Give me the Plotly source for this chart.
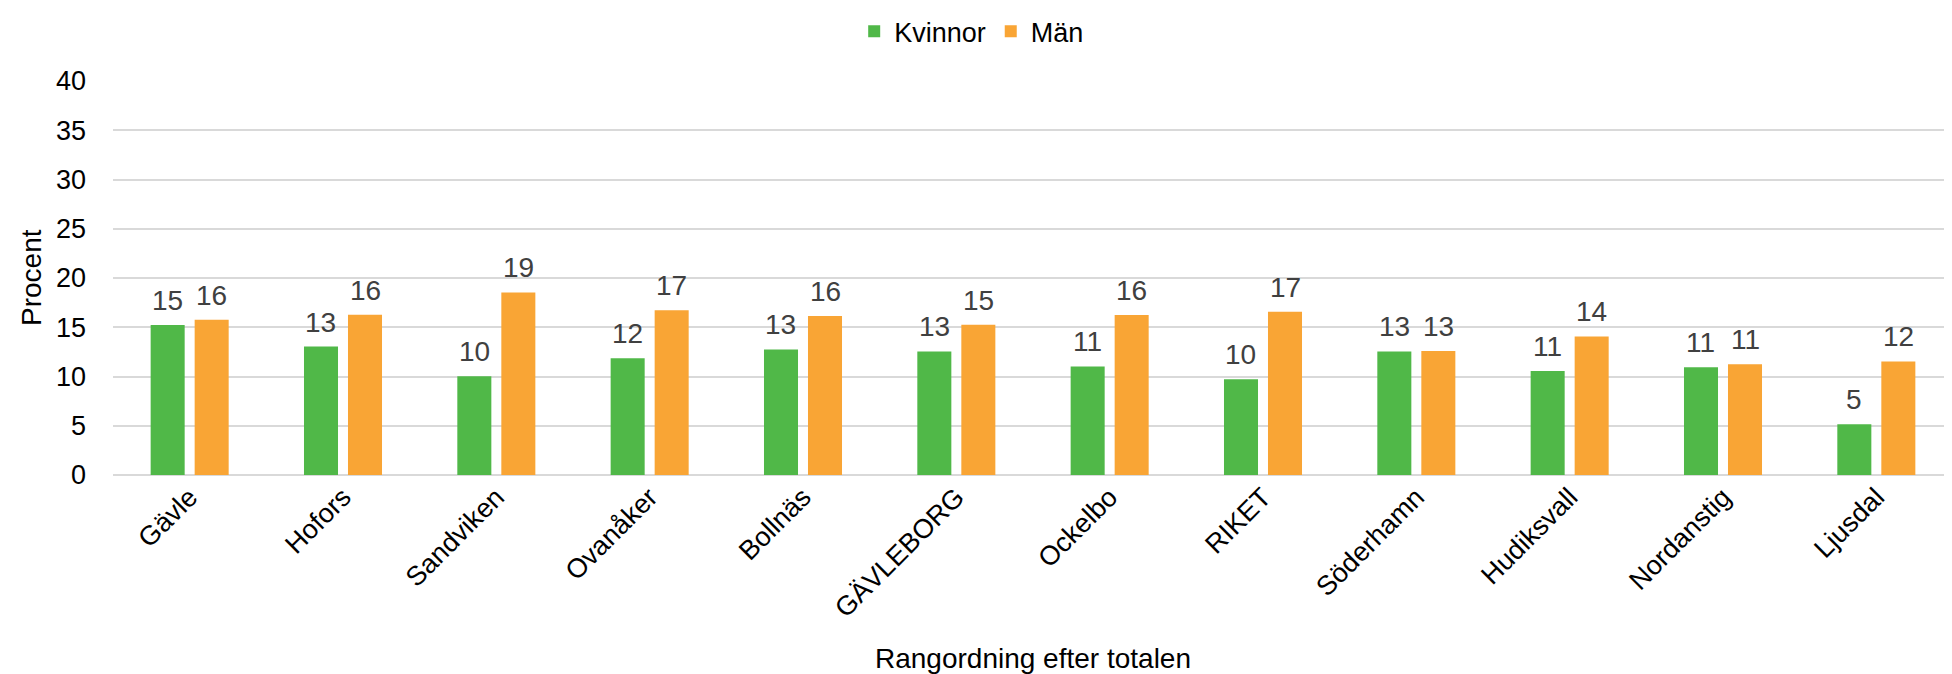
import plotly.graph_objects as go

categories = ["Gävle", "Hofors", "Sandviken", "Ovanåker", "Bollnäs", "GÄVLEBORG",
              "Ockelbo", "RIKET", "Söderhamn", "Hudiksvall", "Nordanstig", "Ljusdal"]
kvinnor = [15.24, 13.04, 10.03, 11.85, 12.75, 12.55, 11.02, 9.73, 12.55, 10.55, 10.95, 5.15]
man = [15.75, 16.26, 18.53, 16.73, 16.14, 15.25, 16.24, 16.58, 12.6, 14.07, 11.25, 11.53]
series_names = ["Kvinnor", "Män"]
y_ticks = [0, 5, 10, 15, 20, 25, 30, 35, 40]
x_title = "Rangordning efter totalen"
y_title = "Procent"

GREEN = "#50B848"
ORANGE = "#F9A535"
FONT = "Liberation Sans, Arial, sans-serif"
LABEL_FONT = "Liberation Sans Narrow, Arial Narrow, Liberation Sans, Arial, sans-serif"

W, H = 1952, 674
ML, MR, MT, MB = 105, 7, 73, 207
PW = W - ML - MR
PH = H - MT - MB
CAT_W = PW / len(categories)
BARGAP, GROUPGAP = 0.426, 0.227
SLOT = CAT_W * (1 - BARGAP) / 2

fig = go.Figure()
for name, vals, col in [(series_names[0], kvinnor, GREEN), (series_names[1], man, ORANGE)]:
    fig.add_trace(go.Bar(
        name=name, x=categories, y=vals,
        marker=dict(color=col, line=dict(width=0)),
    ))

# data labels above each bar
for sign, vals in [(-1, kvinnor), (1, man)]:
    for c, v in zip(categories, vals):
        fig.add_annotation(
            x=c, y=v, xref="x", yref="y", text=f"{round(v)}",
            xshift=sign * SLOT / 2, yshift=7, xanchor="center", yanchor="bottom",
            showarrow=False,
            font=dict(family=LABEL_FONT, size=28, color="#404040"),
        )

fig.update_layout(
    width=W, height=H,
    margin=dict(l=ML, r=MR, t=MT, b=MB, autoexpand=False),
    paper_bgcolor="white", plot_bgcolor="white",
    barmode="group", bargap=BARGAP, bargroupgap=GROUPGAP,
    font=dict(family=FONT, size=27, color="#000000"),
    showlegend=True,
    legend=dict(orientation="h", xref="container", yref="container",
                x=0.4335, y=0.965, xanchor="left", yanchor="middle",
                font=dict(family=FONT, size=27, color="#000000"),
                itemwidth=30, traceorder="normal", bgcolor="rgba(0,0,0,0)"),
)
fig.update_xaxes(
    type="category", tickangle=-45, showgrid=False, showline=False, zeroline=False,
    ticks="", tickfont=dict(family=FONT, size=27, color="#000000"),
)
fig.update_yaxes(
    range=[0, 40], tickvals=y_ticks, ticktext=[str(t) for t in y_ticks],
    showgrid=True, gridcolor="#D9D9D9", gridwidth=2,
    zeroline=True, zerolinecolor="#D9D9D9", zerolinewidth=2,
    showline=False, ticks="", ticklabelstandoff=26,
    tickfont=dict(family=FONT, size=27, color="#000000"),
)
fig.add_annotation(text=x_title, xref="paper", yref="paper",
                   x=0.5, y=-(650 - (MT + PH)) / PH, xanchor="center", yanchor="middle",
                   showarrow=False, font=dict(family=FONT, size=28, color="#000000"))
fig.add_annotation(text=y_title, xref="paper", yref="paper",
                   x=(23 - ML) / PW, y=0.5, xanchor="center", yanchor="middle",
                   textangle=-90, showarrow=False,
                   font=dict(family=FONT, size=28, color="#000000"))

fig.write_html("out.html")
